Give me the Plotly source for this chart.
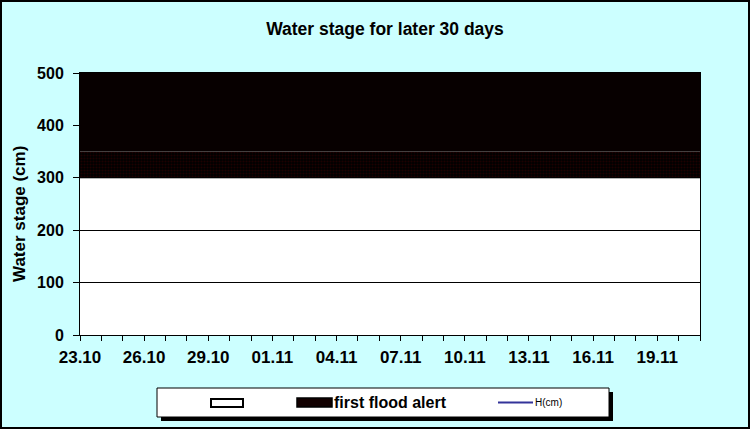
import plotly.graph_objects as go
import pandas as pd

# ---- data ----
dates = pd.date_range("2008-10-23", "2008-11-21", freq="D").strftime("%Y-%m-%d").tolist()
normal_band = [300] * len(dates)          # white band 0-300 cm
alert_low = [50] * len(dates)             # 300-350 cm (textured part)
alert_high = [150] * len(dates)           # 350-500 cm
h_cm_x = []                               # no observed stage data
h_cm_y = []
y_ticks = [0, 100, 200, 300, 400, 500]
legend_names = ["", "first flood alert", "H(cm)"]

FONT = "Liberation Sans, Arial, sans-serif"
W, H = 750, 429
ML, MR, MT, MB = 80, 50, 73, 94
PW, PH = W - ML - MR, H - MT - MB


def px(x):
    return (x - ML) / PW


def py(y):
    return (MT + PH - y) / PH


fig = go.Figure()
fig.add_trace(go.Scatter(
    x=dates, y=normal_band, name=legend_names[0], stackgroup="s", mode="lines",
    line=dict(color="black", width=1), fillcolor="rgba(255,255,255,0)",
))
fig.add_trace(go.Scatter(
    x=dates, y=alert_low, name=legend_names[1], stackgroup="s", mode="lines",
    line=dict(color="#000000", width=0), fillcolor="#000000",
    fillpattern=dict(shape=".", fgcolor="#3a0000", bgcolor="#000000", size=3, solidity=0.4),
))
fig.add_trace(go.Scatter(
    x=dates, y=alert_high, name=legend_names[1], stackgroup="s", mode="lines",
    line=dict(color="#070000", width=0), fillcolor="#070000",
))
fig.add_trace(go.Scatter(
    x=h_cm_x, y=h_cm_y, name=legend_names[2], mode="lines",
    line=dict(color="#333399", width=2),
))

shapes = [
    # outer border
    dict(type="rect", xref="paper", yref="paper",
         x0=px(1), x1=px(W - 1), y0=py(H - 1), y1=py(1),
         line=dict(color="black", width=2), layer="below"),
    # legend shadow + box
    dict(type="rect", xref="paper", yref="paper",
         x0=px(161), x1=px(613), y0=py(421), y1=py(392),
         fillcolor="black", line=dict(width=0), layer="above"),
    dict(type="rect", xref="paper", yref="paper",
         x0=px(157), x1=px(609), y0=py(417), y1=py(388),
         fillcolor="white", line=dict(color="black", width=1), layer="above"),
    # legend symbols
    dict(type="rect", xref="paper", yref="paper",
         x0=px(211), x1=px(243), y0=py(407), y1=py(399),
         fillcolor="white", line=dict(color="black", width=2), layer="above"),
    dict(type="rect", xref="paper", yref="paper",
         x0=px(297), x1=px(332), y0=py(407), y1=py(398),
         fillcolor="#120000", line=dict(color="black", width=1.5), layer="above"),
    dict(type="line", xref="paper", yref="paper",
         x0=px(498), x1=px(533), y0=py(402.5), y1=py(402.5),
         line=dict(color="#333399", width=2), layer="above"),
]

annotations = [
    dict(text="<b>first flood alert</b>", xref="paper", yref="paper",
         x=px(332), y=py(402.5), xanchor="left", yanchor="middle", showarrow=False,
         font=dict(size=16, family=FONT, color="black")),
    dict(text="H(cm)", xref="paper", yref="paper",
         x=px(533), y=py(402.5), xanchor="left", yanchor="middle", showarrow=False,
         font=dict(size=10, family=FONT, color="black")),
    dict(text="<b>Water stage (cm)</b>", xref="paper", yref="paper",
         x=px(19), y=py(214), xanchor="center", yanchor="middle", showarrow=False,
         textangle=-90, font=dict(size=17, family=FONT, color="black")),
]

fig.update_layout(
    width=W, height=H,
    margin=dict(l=ML, r=MR, t=MT, b=MB),
    paper_bgcolor="#CCFFFF", plot_bgcolor="white",
    font=dict(family=FONT, color="black"),
    title=dict(text="<b>Water stage for later 30 days</b>", x=px(385), xref="paper",
               xanchor="center", y=1 - 29 / H, yanchor="middle",
               font=dict(size=17.5, family=FONT, color="black")),
    showlegend=False,
    shapes=shapes,
    annotations=annotations,
    xaxis=dict(type="date", range=[dates[0], dates[-1]],
               tick0=dates[0], dtick=3 * 86400000, tickformat="%d.%m",
               ticks="outside", ticklen=5, tickcolor="black",
               minor=dict(dtick=86400000, ticks="outside", ticklen=5, tickcolor="black", showgrid=False),
               showgrid=False, showline=True, linecolor="black", linewidth=1,
               mirror=True, ticklabelstandoff=2,
               tickfont=dict(size=17, family=FONT, weight="bold")),
    yaxis=dict(range=[0, 500], tickvals=y_ticks, ticks="outside", ticklen=6, tickcolor="black",
               showgrid=True, gridcolor="black", gridwidth=1, zeroline=False,
               showline=True, linecolor="black", linewidth=1, mirror=True,
               ticklabelstandoff=6,
               tickfont=dict(size=16, family=FONT, weight="bold")),
)

fig.write_html("out.html", config={"displayModeBar": False},
               post_script="document.body.style.margin='0';")
